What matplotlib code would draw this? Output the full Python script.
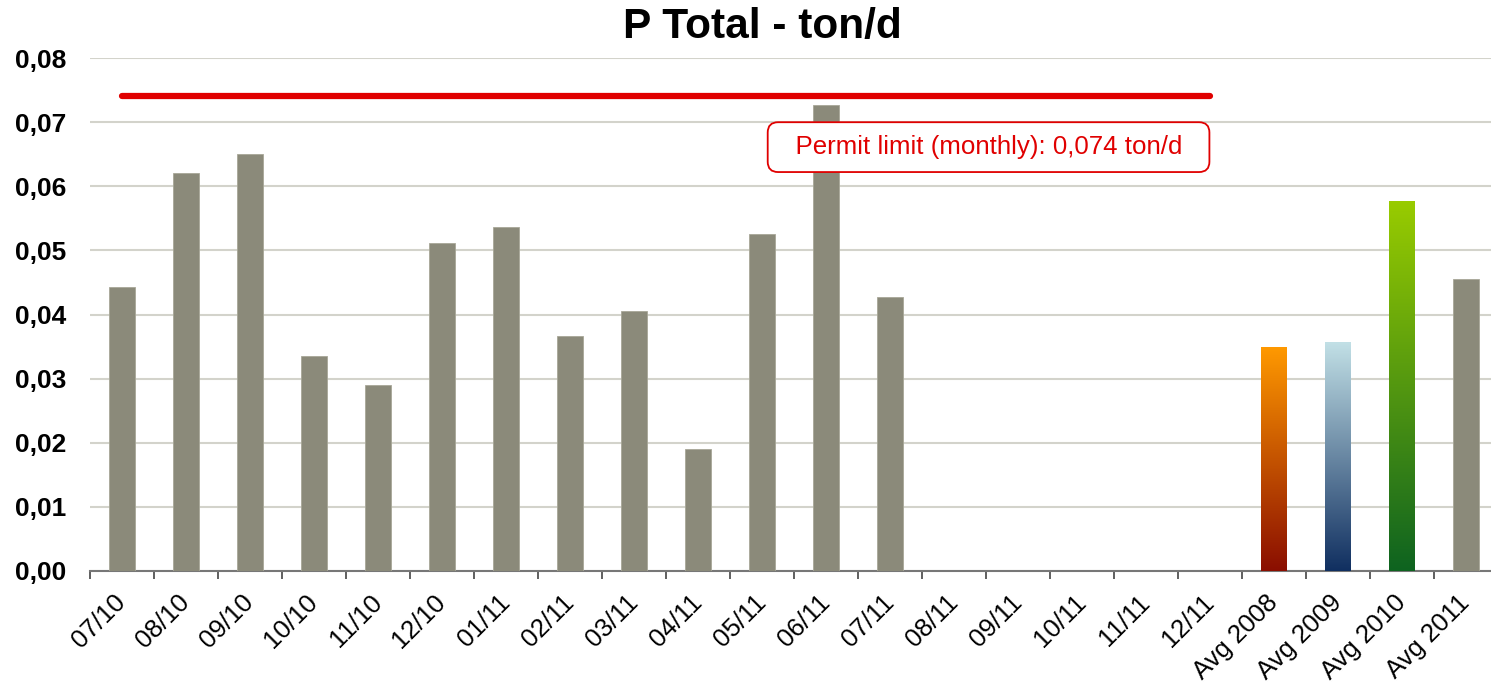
import numpy as np
import matplotlib.pyplot as plt
from matplotlib.colors import LinearSegmentedColormap

plt.rcParams['font.family'] = ['Liberation Sans', 'DejaVu Sans']

# data
labels = ['07/10', '08/10', '09/10', '10/10', '11/10', '12/10', '01/11', '02/11',
          '03/11', '04/11', '05/11', '06/11', '07/11', '08/11', '09/11', '10/11',
          '11/11', '12/11', 'Avg 2008', 'Avg 2009', 'Avg 2010', 'Avg 2011']
values = [0.0443, 0.0621, 0.0650, 0.0335, 0.0290, 0.0512, 0.0536, 0.0367,
          0.0405, 0.0191, 0.0526, 0.0727, 0.0427, 0, 0, 0,
          0, 0, 0.0349, 0.0357, 0.0577, 0.0455]
permit_limit = 0.074
permit_from = '07/10'
permit_to = '12/11'
# gradient bars (top colour, bottom colour)
gradients = {'Avg 2008': ('#FF9900', '#8A0E00'),
             'Avg 2009': ('#C2E0E6', '#102F60'),
             'Avg 2010': ('#99CC00', '#0E6320')}
yticks = [0.00, 0.01, 0.02, 0.03, 0.04, 0.05, 0.06, 0.07, 0.08]

fig = plt.figure(figsize=(14.91, 6.87), dpi=100)
ax = fig.add_axes([90/1491, 1-571/687, 1408/1491, (571-58)/687])

x = np.arange(len(labels))
bars = ax.bar(x, values, width=0.4, color='#8B8A7A', edgecolor='#A8A798', linewidth=0.6, zorder=3)

for b, lab in zip(bars, labels):
    if lab in gradients:
        top, bot = gradients[lab]
        cmap = LinearSegmentedColormap.from_list(lab, [bot, top])
        b.set_facecolor('none')
        b.set_edgecolor('none')
        grad = np.linspace(0, 1, 256).reshape(-1, 1)
        im = ax.imshow(grad, cmap=cmap, origin='lower', aspect='auto',
                       extent=[b.get_x(), b.get_x() + b.get_width(), 0, b.get_height()],
                       zorder=3)
        im.set_clip_path(b)

# permit line
i0, i1 = labels.index(permit_from), labels.index(permit_to)
ax.plot([i0, i1], [permit_limit, permit_limit], color='#E00000', lw=4.5,
        solid_capstyle='round', zorder=4)
ax.text(13.54, 0.0661, '  Permit limit (monthly): ' + f'{permit_limit:.3f}'.replace('.', ',') + ' ton/d  ',
        ha='center', va='center', fontsize=18.6, color='#E00000', zorder=5,
        bbox=dict(boxstyle='round,pad=0.5,rounding_size=0.4', fc='white', ec='#E00000', lw=1.3))

ax.set_xlim(-0.5, len(labels) - 0.5)
ax.set_ylim(0, 0.08)
ax.set_yticks(yticks)
ax.set_yticklabels([f'{v:.2f}'.replace('.', ',') for v in yticks], fontsize=19, fontweight='bold')
ax.tick_params(axis='y', length=0, pad=17)
ax.yaxis.grid(True, color='#D3D3CB', lw=1.5, zorder=0)
ax.set_axisbelow(True)

ax.set_xticks(x)
ax.set_xticklabels(labels, rotation=45, ha='right', va='center', rotation_mode='anchor', fontsize=18.5)
ax.tick_params(axis='x', length=0, pad=20)
ax.set_xticks(np.arange(len(labels) + 1) - 0.5, minor=True)
ax.tick_params(axis='x', which='minor', length=6, width=1.2, color='#444444', direction='out')

for s in ['left', 'right', 'top']:
    ax.spines[s].set_visible(False)
ax.spines['bottom'].set_color('#777777')
ax.spines['bottom'].set_linewidth(1.5)

fig.text(762/1491, 1-27/687, 'P Total - ton/d', ha='center', va='center', fontsize=30.5, fontweight='bold')

fig.savefig('out.png', dpi=100)
